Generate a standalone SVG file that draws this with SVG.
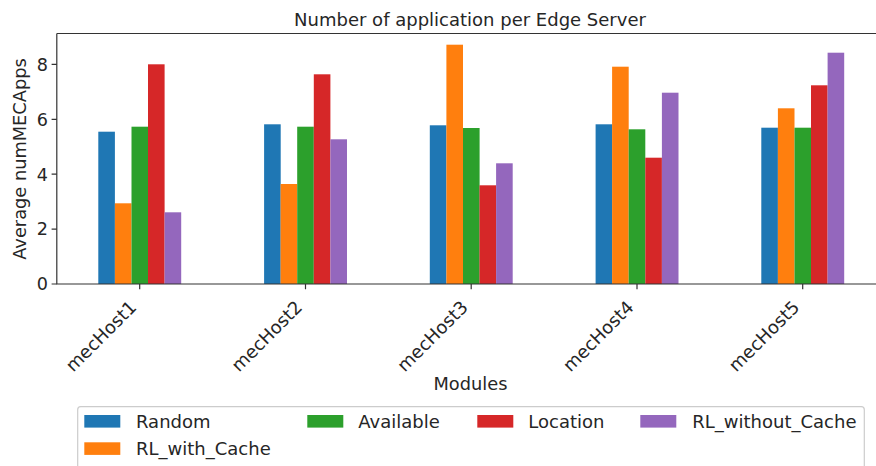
<svg xmlns="http://www.w3.org/2000/svg" width="876" height="466" viewBox="0 0 876 466">
  <style>
    text { font-family: "DejaVu Sans", "Liberation Sans", sans-serif; fill: #262626; }
    .title { font-size: 18px; text-anchor: middle; }
    .axlabel { font-size: 17.8px; text-anchor: middle; }
    .ytick { font-size: 17.6px; text-anchor: end; }
    .xtick { font-size: 18px; text-anchor: end; }
    .leg { font-size: 18px; }
    .spine { stroke: #333; stroke-width: 1.2; fill: none; }
    .tick { stroke: #333; stroke-width: 1.2; }
    .c0 { fill: #1f77b4; } .c1 { fill: #ff7f0e; } .c2 { fill: #2ca02c; }
    .c3 { fill: #d62728; } .c4 { fill: #9467bd; }
  </style>
  <rect width="876" height="466" fill="#fff"/>

  <!-- title -->
  <text class="title" x="470" y="26">Number of application per Edge Server</text>

  <!-- bars: group centre c, bar width 16.58, zero at y=284 -->
  <g id="bars">
    <g id="mecHost1-bars">
      <rect class="c0" x="98.3" y="131.7" width="16.6" height="152.3"/>
      <rect class="c1" x="114.9" y="203.3" width="16.6" height="80.7"/>
      <rect class="c2" x="131.5" y="126.7" width="16.6" height="157.3"/>
      <rect class="c3" x="148.0" y="64.3" width="16.6" height="219.7"/>
      <rect class="c4" x="164.6" y="212.3" width="16.6" height="71.7"/>
    </g>
    <g id="mecHost2-bars">
      <rect class="c0" x="264.1" y="124.3" width="16.6" height="159.7"/>
      <rect class="c1" x="280.6" y="184.0" width="16.6" height="100.0"/>
      <rect class="c2" x="297.2" y="126.7" width="16.6" height="157.3"/>
      <rect class="c3" x="313.8" y="74.3" width="16.6" height="209.7"/>
      <rect class="c4" x="330.4" y="139.3" width="16.6" height="144.7"/>
    </g>
    <g id="mecHost3-bars">
      <rect class="c0" x="429.8" y="125.3" width="16.6" height="158.7"/>
      <rect class="c1" x="446.4" y="44.7" width="16.6" height="239.3"/>
      <rect class="c2" x="463.0" y="128.0" width="16.6" height="156.0"/>
      <rect class="c3" x="479.5" y="185.3" width="16.6" height="98.7"/>
      <rect class="c4" x="496.1" y="163.3" width="16.6" height="120.7"/>
    </g>
    <g id="mecHost4-bars">
      <rect class="c0" x="595.6" y="124.3" width="16.6" height="159.7"/>
      <rect class="c1" x="612.1" y="66.7" width="16.6" height="217.3"/>
      <rect class="c2" x="628.7" y="129.3" width="16.6" height="154.7"/>
      <rect class="c3" x="645.3" y="157.7" width="16.6" height="126.3"/>
      <rect class="c4" x="661.9" y="92.7" width="16.6" height="191.3"/>
    </g>
    <g id="mecHost5-bars">
      <rect class="c0" x="761.3" y="127.7" width="16.6" height="156.3"/>
      <rect class="c1" x="777.9" y="108.3" width="16.6" height="175.7"/>
      <rect class="c2" x="794.5" y="127.7" width="16.6" height="156.3"/>
      <rect class="c3" x="811.0" y="85.3" width="16.6" height="198.7"/>
      <rect class="c4" x="827.6" y="52.7" width="16.6" height="231.3"/>
    </g>
  </g>

  <!-- axes frame (right edge lies past the canvas) -->
  <g id="axes">
    <path class="spine" d="M56.8 33.5 V284 H880 M56.8 33.5 H880"/>
    <!-- y ticks -->
    <path class="tick" d="M51.6 284 H56.8 M51.6 229.1 H56.8 M51.6 174.2 H56.8 M51.6 119.3 H56.8 M51.6 64.4 H56.8"/>
    <text class="ytick" x="48" y="290.3">0</text>
    <text class="ytick" x="48" y="235.4">2</text>
    <text class="ytick" x="48" y="180.5">4</text>
    <text class="ytick" x="48" y="125.6">6</text>
    <text class="ytick" x="48" y="70.7">8</text>
    <!-- x ticks -->
    <path class="tick" d="M139.7 284 V289.2 M305.5 284 V289.2 M471.2 284 V289.2 M637 284 V289.2 M802.7 284 V289.2"/>
    <text class="xtick" transform="translate(137.5 308.5) rotate(-45)">mecHost1</text>
    <text class="xtick" transform="translate(303.3 308.5) rotate(-45)">mecHost2</text>
    <text class="xtick" transform="translate(469 308.5) rotate(-45)">mecHost3</text>
    <text class="xtick" transform="translate(634.8 308.5) rotate(-45)">mecHost4</text>
    <text class="xtick" transform="translate(800.5 308.5) rotate(-45)">mecHost5</text>
    <text class="axlabel" x="470.5" y="390">Modules</text>
    <text class="axlabel" transform="translate(26 159) rotate(-90)">Average numMECApps</text>
  </g>

  <!-- legend -->
  <g id="legend">
    <rect x="77.7" y="406.7" width="786.6" height="70" rx="3" fill="#fff" fill-opacity="0.8" stroke="#ccc" stroke-width="1.2"/>
    <g id="legend-random">
      <rect class="c0" x="84.3" y="415" width="36" height="12.6"/>
      <text class="leg" x="136" y="427.7">Random</text>
    </g>
    <g id="legend-available">
      <rect class="c2" x="307.3" y="415" width="36" height="12.6"/>
      <text class="leg" x="358.3" y="427.7">Available</text>
    </g>
    <g id="legend-location">
      <rect class="c3" x="477.3" y="415" width="36" height="12.6"/>
      <text class="leg" x="528.3" y="427.7">Location</text>
    </g>
    <g id="legend-rl-without-cache">
      <rect class="c4" x="640.3" y="415" width="36" height="12.6"/>
      <text class="leg" x="692.3" y="427.7">RL_without_Cache</text>
    </g>
    <g id="legend-rl-with-cache">
      <rect class="c1" x="84.3" y="442.3" width="36" height="12.6"/>
      <text class="leg" x="136" y="455">RL_with_Cache</text>
    </g>
  </g>
</svg>
